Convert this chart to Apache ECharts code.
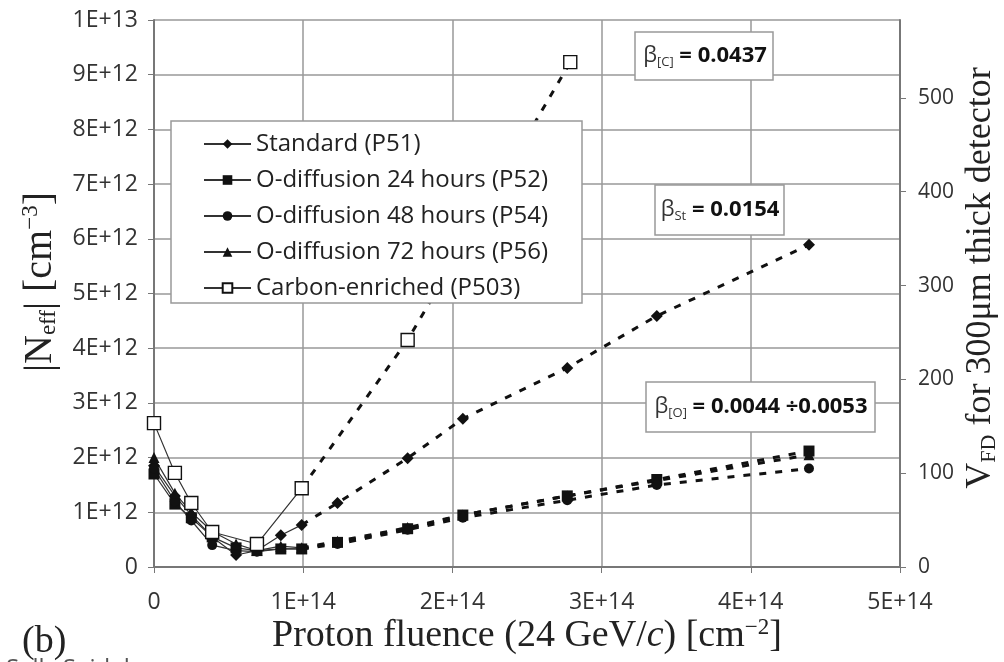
<!DOCTYPE html>
<html><head><meta charset="utf-8">
<script src="https://cdn.jsdelivr.net/npm/echarts@6/dist/echarts.min.js"></script>
<style>html,body{margin:0;padding:0;background:#fff}#c{width:1004px;height:662px}</style>
</head><body><div id="c"></div>
<script>
// ---- data ----
const fluence      = [0, 0.14e14, 0.25e14, 0.39e14, 0.55e14, 0.69e14, 0.85e14, 0.99e14, 1.23e14, 1.70e14, 2.07e14, 2.77e14, 3.37e14, 4.39e14];
const standardP51  = [1.85e12, 1.30e12, 0.95e12, 0.55e12, 0.22e12, 0.30e12, 0.58e12, 0.77e12, 1.17e12, 1.99e12, 2.71e12, 3.64e12, 4.59e12, 5.89e12];
const oDiff24P52   = [1.70e12, 1.15e12, 0.90e12, 0.55e12, 0.35e12, 0.30e12, 0.33e12, 0.33e12, 0.45e12, 0.70e12, 0.95e12, 1.30e12, 1.60e12, 2.12e12];
const oDiff48P54   = [1.80e12, 1.20e12, 0.85e12, 0.40e12, 0.30e12, 0.28e12, 0.33e12, 0.33e12, 0.42e12, 0.68e12, 0.90e12, 1.22e12, 1.50e12, 1.80e12];
const oDiff72P56   = [2.00e12, 1.35e12, 1.00e12, 0.65e12, 0.42e12, 0.30e12, 0.38e12, 0.35e12, 0.47e12, 0.72e12, 0.95e12, 1.30e12, 1.58e12, 2.05e12];
const carbonFluence = [0, 0.14e14, 0.25e14, 0.39e14, 0.69e14, 0.99e14, 1.70e14, 2.79e14];
const carbonP503    = [2.63e12, 1.72e12, 1.17e12, 0.64e12, 0.42e12, 1.44e12, 4.15e12, 9.23e12];
const lowCount = 8;        // points joined by a solid line (fluence up to 1E+14)
const carbonLowCount = 6;
const seriesNames = ['Standard (P51)', 'O-diffusion 24 hours (P52)', 'O-diffusion 48 hours (P54)', 'O-diffusion 72 hours (P56)', 'Carbon-enriched (P503)'];
const xTickLabels = ['0', '1E+14', '2E+14', '3E+14', '4E+14', '5E+14'];
const yTickLabels = ['0', '1E+12', '2E+12', '3E+12', '4E+12', '5E+12', '6E+12', '7E+12', '8E+12', '9E+12', '1E+13'];
const rightTickLabels = ['0', '100', '200', '300', '400', '500'];
const rightAxisMax = 583;   // V_FD equivalent of 1E+13 cm^-3
const betaLabels = ['0.0437', '0.0154', '0.0044 ÷0.0053'];

// ---- build ----
const pairs = (xs, ys, a, b) => xs.slice(a, b).map((x, i) => [x, ys.slice(a, b)[i]]);
const BLACK = '#111';
const defs = [
  {xs: fluence, ys: standardP51, n: lowCount, symbol: 'diamond', size: 12, fill: BLACK},
  {xs: fluence, ys: oDiff24P52, n: lowCount, symbol: 'rect', size: 11, fill: BLACK},
  {xs: fluence, ys: oDiff48P54, n: lowCount, symbol: 'circle', size: 10, fill: BLACK},
  {xs: fluence, ys: oDiff72P56, n: lowCount, symbol: 'triangle', size: 11, fill: BLACK},
  {xs: carbonFluence, ys: carbonP503, n: carbonLowCount, symbol: 'rect', size: 13, fill: '#fff'}
];
const series = [];
defs.forEach((d, k) => {
  const item = {color: d.fill, borderColor: BLACK, borderWidth: d.fill === '#fff' ? 1.4 : 0};
  series.push({
    name: seriesNames[k], type: 'line', yAxisIndex: 0,
    data: pairs(d.xs, d.ys, 0, d.n),
    symbol: d.symbol, symbolSize: d.size, showAllSymbol: true,
    itemStyle: item, lineStyle: {color: '#333', width: 1.2}, z: 3 + (k === 4 ? 1 : 0), animation: false
  });
  series.push({
    name: seriesNames[k] + ' fit', type: 'line', yAxisIndex: 0,
    data: pairs(d.xs, d.ys, d.n - 1, d.xs.length),
    symbol: (v, p) => p.dataIndex === 0 ? 'none' : d.symbol, symbolSize: d.size, showAllSymbol: true,
    itemStyle: item, lineStyle: {color: BLACK, width: 3, type: [7, 9]}, z: 2, animation: false
  });
});

const labelFont = 'Open Sans';
const betaRich = {
  b: {fontFamily: labelFont, fontSize: 22, fill: '#333'},
  s: {fontFamily: labelFont, fontSize: 13, fill: '#333', verticalAlign: 'bottom', padding: [12, 0, 0, 0]},
  e: {fontFamily: labelFont, fontSize: 22, fontWeight: 'bold', fill: '#111'},
  v: {fontFamily: labelFont, fontSize: 22, fontWeight: 'bold', fill: '#111'}
};
const chart = echarts.init(document.getElementById('c'));
chart.setOption({
  animation: false,
  backgroundColor: '#fff',
  grid: {left: 154, right: 104, top: 20, bottom: 95},
  legend: {
    data: seriesNames, orient: 'vertical', left: 203, top: 132, padding: 0,
    itemWidth: 47, itemHeight: 12, itemGap: 12, z: 6,
    textStyle: {fontFamily: labelFont, fontSize: 24, color: '#222', lineHeight: 24},
    selectedMode: false
  },
  xAxis: {
    type: 'value', min: 0, max: 5e14, interval: 1e14,
    axisLine: {show: true, lineStyle: {color: '#777', width: 2}},
    axisTick: {show: true, inside: false, length: 6, lineStyle: {color: '#777'}},
    axisLabel: {formatter: v => xTickLabels[Math.round(v / 1e14)], fontFamily: labelFont, fontSize: 23, color: '#333', margin: 24},
    splitLine: {show: true, lineStyle: {color: '#999', width: 1.5}}
  },
  yAxis: [{
    type: 'value', min: 0, max: 1e13, interval: 1e12,
    axisLine: {show: true, lineStyle: {color: '#777', width: 2}},
    axisTick: {show: true, length: 6, lineStyle: {color: '#777'}},
    axisLabel: {formatter: v => yTickLabels[Math.round(v / 1e12)], fontFamily: labelFont, fontSize: 23, color: '#333', margin: 16},
    splitLine: {show: true, lineStyle: {color: '#999', width: 1.5}}
  }, {
    type: 'value', position: 'right', min: 0, max: rightAxisMax, interval: 100,
    axisLine: {show: true, lineStyle: {color: '#777', width: 2}},
    axisTick: {show: true, length: 6, lineStyle: {color: '#777'}},
    axisLabel: {formatter: v => rightTickLabels[Math.round(v / 100)] || '', showMaxLabel: false, fontFamily: labelFont, fontSize: 21, color: '#333', margin: 18},
    splitLine: {show: false}
  }],
  series: series,
  graphic: [
    {type: 'rect', shape: {x: 171, y: 121, width: 411, height: 182}, style: {fill: '#fff', stroke: '#999', lineWidth: 1.5}, z: 5},
    // beta boxes
    {type: 'rect', shape: {x: 635, y: 32, width: 138, height: 48}, style: {fill: '#fff', stroke: '#999', lineWidth: 1.5}, z: 10},
    {type: 'text', x: 705, y: 56, z: 11, style: {text: '{b|β}{s|[C]}{e| = }{v|' + betaLabels[0] + '}', align: 'center', verticalAlign: 'middle', rich: betaRich}},
    {type: 'rect', shape: {x: 655, y: 185, width: 129, height: 50}, style: {fill: '#fff', stroke: '#999', lineWidth: 1.5}, z: 10},
    {type: 'text', x: 720, y: 210, z: 11, style: {text: '{b|β}{s|St}{e| = }{v|' + betaLabels[1] + '}', align: 'center', verticalAlign: 'middle', rich: betaRich}},
    {type: 'rect', shape: {x: 646, y: 382, width: 229, height: 50}, style: {fill: '#fff', stroke: '#999', lineWidth: 1.5}, z: 10},
    {type: 'text', x: 761, y: 407, z: 11, style: {text: '{b|β}{s|[O]}{e| = }{v|' + betaLabels[2] + '}', align: 'center', verticalAlign: 'middle', rich: betaRich}},
    // axis titles
    {type: 'text', x: 527, y: 636, z: 10, style: {text: 'Proton fluence (24 GeV/{i|c}) [cm{p|−2}]', align: 'center', verticalAlign: 'middle',
      font: '38px "Liberation Serif"', fill: '#222',
      rich: {i: {fontFamily: 'Liberation Serif', fontSize: 38, fontStyle: 'italic', fill: '#222'}, p: {fontFamily: 'Liberation Serif', fontSize: 23, fill: '#222', verticalAlign: 'top', padding: [0, 0, 16, 0]}}}},
    {type: 'text', x: 40, y: 282, rotation: Math.PI / 2, z: 10, style: {text: '|N{s|eff}| [cm{p|−3}]', align: 'center', verticalAlign: 'middle',
      font: '40px "Liberation Serif"', fill: '#222',
      rich: {s: {fontFamily: 'Liberation Serif', fontSize: 23, fill: '#222', verticalAlign: 'bottom', padding: [18, 0, 0, 0]}, p: {fontFamily: 'Liberation Serif', fontSize: 23, fill: '#222', verticalAlign: 'top', padding: [0, 0, 18, 0]}}}},
    {type: 'text', x: 981, y: 278, rotation: Math.PI / 2, z: 10, style: {text: 'V{s|FD} for 300μm thick detector', align: 'center', verticalAlign: 'middle',
      font: '36px "Liberation Serif"', fill: '#222',
      rich: {s: {fontFamily: 'Liberation Serif', fontSize: 22, fill: '#222', verticalAlign: 'bottom', padding: [16, 0, 0, 0]}}}},
    {type: 'text', x: 22, y: 642, z: 10, style: {text: '(b)', align: 'left', verticalAlign: 'middle', font: '38px "Liberation Serif"', fill: '#222'}},
    {type: 'text', x: 6, y: 657, z: 10, style: {text: 'Sally Seidel', align: 'left', verticalAlign: 'top', font: '24px "Open Sans"', fill: '#555'}}
  ]
});
</script></body></html>
